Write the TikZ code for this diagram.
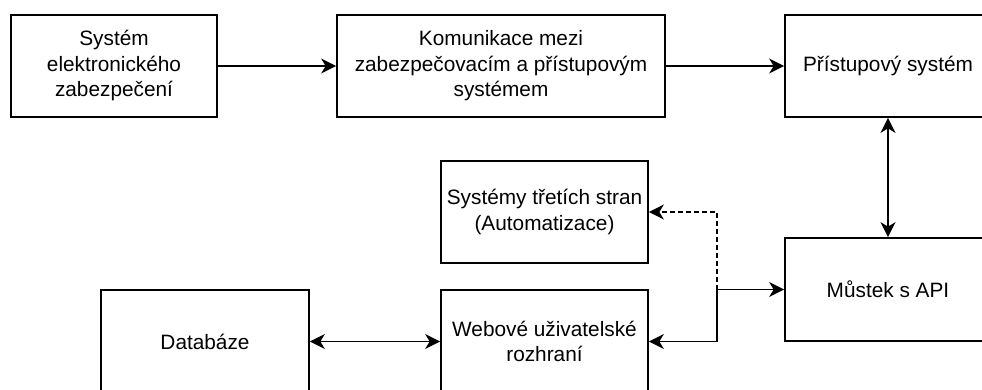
\documentclass[tikz,border=0pt]{standalone}
\usepackage{fontspec}
\setmainfont{Liberation Sans}
\usetikzlibrary{arrows.meta,calc}
\begin{document}
\begin{tikzpicture}[x=1pt,y=-1pt,
  box/.style={draw=black, line width=1.7pt, fill=white, rectangle, inner sep=2pt,
    align=center, font=\fontsize{20.8}{25.5}\selectfont},
  conn/.style={line width=1.6pt, draw=black},
  ah/.tip={Stealth[length=15pt,width=15pt,inset=4.5pt]},
  tip/.style={-ah},
  tips/.style={ah-ah},
  dsh/.style={dash pattern=on 4.5pt off 3.5pt}]
\useasboundingbox (0,0) rectangle (982,390);
\node[box, minimum width=206pt, minimum height=102pt] (b1) at (114,66) {Systém\\elektronického\\zabezpečení};
\node[box, minimum width=328pt, minimum height=102pt] (b2) at (501,66) {Komunikace mezi\\zabezpečovacím a přístupovým\\systémem};
\node[box, minimum width=206pt, minimum height=102pt] (b3) at (888,66) {Přístupový systém};
\node[box, minimum width=207pt, minimum height=102pt] (sys) at (544.5,212) {Systémy třetích stran\\(Automatizace)};
\node[box, minimum width=206pt, minimum height=103pt] (mus) at (888,289.5) {Můstek s API};
\node[box, minimum width=207pt, minimum height=103pt] (web) at (544.5,341.5) {Webové uživatelské\\rozhraní};
\node[box, minimum width=208pt, minimum height=103pt] (db) at (205,341.5) {Databáze};
\coordinate (jx) at (717,0);
\draw[conn,tip] (b1.east) -- (b2.west);
\draw[conn,tip] (b2.east) -- (b3.west);
\draw[conn,tips] (b3.south) -- (mus.north);
\draw[conn,tips] (db.east) -- (web.west);
\draw[conn,dsh,tip] (mus.west -| jx) |- (sys.east);
\draw[conn,tips] (web.east) -- (web.east -| jx) -- (mus.west -| jx) -- (mus.west);
\end{tikzpicture}
\end{document}
